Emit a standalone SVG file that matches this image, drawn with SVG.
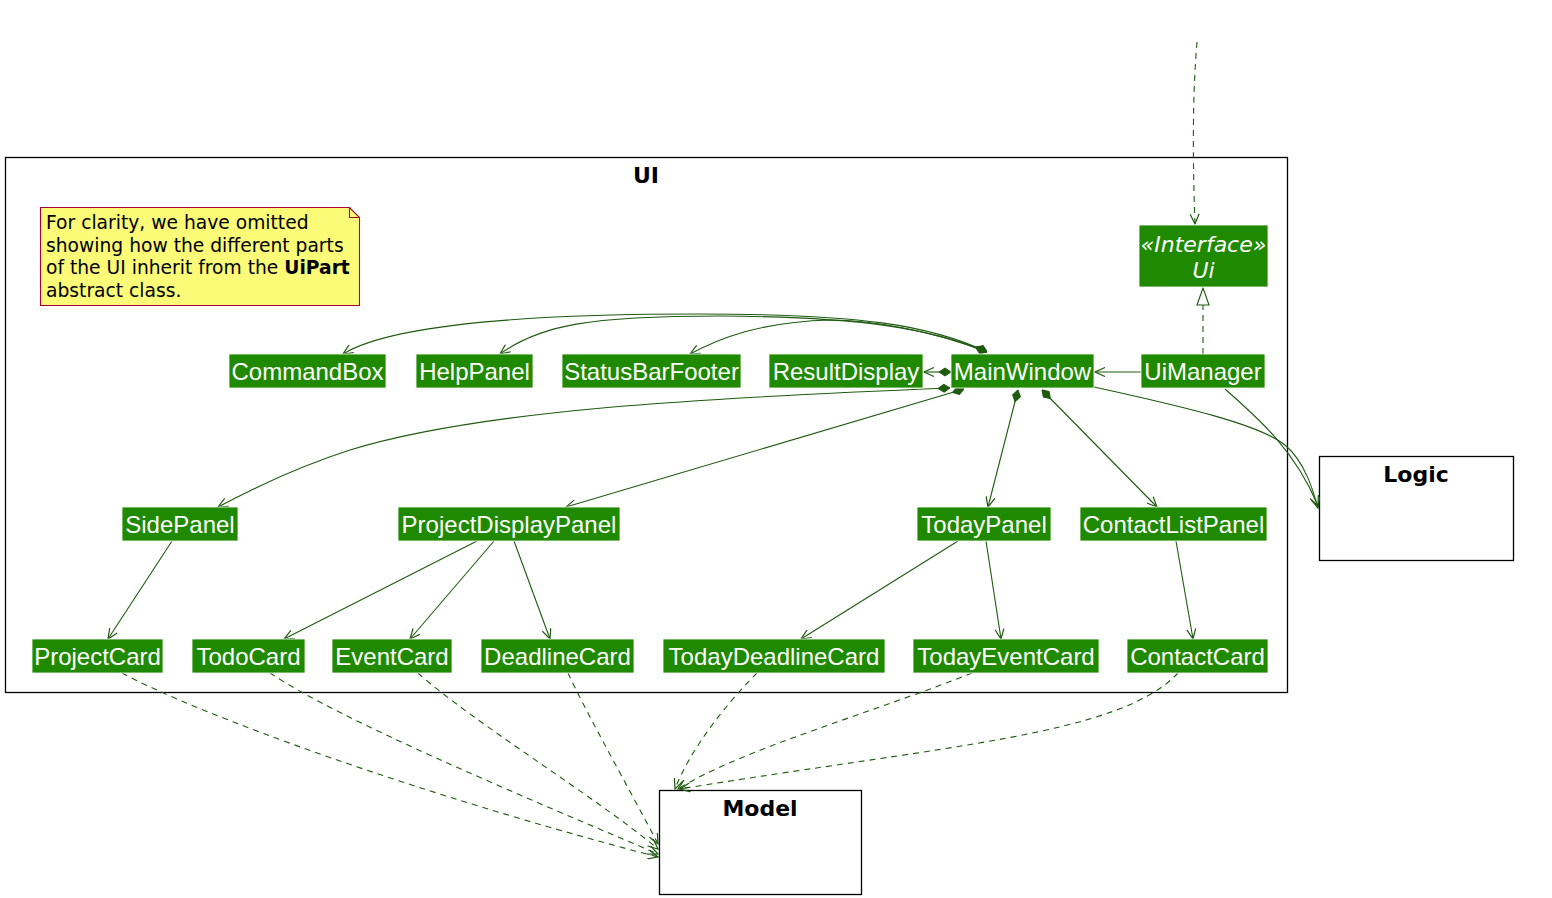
<svg xmlns="http://www.w3.org/2000/svg" width="1552" height="898" viewBox="0 0 1552 898">
<style>
.pkg{fill:#fff;stroke:#000;stroke-width:1.3}
.ptitle{font-family:"DejaVu Sans",sans-serif;font-weight:bold;font-size:22px;fill:#000;text-anchor:middle}
.cls{fill:#1F8A00;stroke:#fff;stroke-width:0.8}
.lbl{font-family:"Liberation Sans",Arial,sans-serif;font-size:24px;fill:#fff;text-anchor:middle}
.ilbl{font-family:"DejaVu Sans",sans-serif;font-style:italic;font-size:22px;fill:#fff;text-anchor:middle}
.e{fill:none;stroke:#1E5A0F;stroke-width:1.1}
.d{fill:none;stroke:#1E5A0F;stroke-width:1.1;stroke-dasharray:6,5}
.note{fill:#FBFB77;stroke:#A80036;stroke-width:1.1}
.ntxt{font-family:"DejaVu Sans",sans-serif;font-size:18.7px;fill:#000}
</style>
<defs>
<marker id="arr" markerUnits="userSpaceOnUse" markerWidth="12" markerHeight="10" refX="11" refY="5" orient="auto">
<path d="M1,0.5 L11,5 L1,9.5" fill="none" stroke="#1E5A0F" stroke-width="1.2"/>
</marker>
<marker id="dia" markerUnits="userSpaceOnUse" markerWidth="14" markerHeight="10" refX="0" refY="5" orient="auto">
<path d="M0,5 L6,1 L12,5 L6,9 Z" fill="#1E5A0F" stroke="#1E5A0F" stroke-width="1"/>
</marker>
<marker id="tri" markerUnits="userSpaceOnUse" markerWidth="20" markerHeight="14" refX="18" refY="7" orient="auto">
<path d="M1,1 L18,7 L1,13 Z" fill="#fff" stroke="#1E5A0F" stroke-width="1.1"/>
</marker>
</defs>
<rect width="1552" height="898" fill="#fff"/>

<g id="UI">
<rect class="pkg" x="5.5" y="157.5" width="1282" height="535"/>
<text class="ptitle" x="646" y="183">UI</text>
</g>
<g id="Logic">
<rect class="pkg" x="1319.5" y="456.5" width="194" height="104"/>
<text class="ptitle" x="1416" y="482">Logic</text>
</g>
<g id="Model">
<rect class="pkg" x="659.5" y="790.5" width="202" height="104"/>
<text class="ptitle" x="760" y="816">Model</text>
</g>

<g id="note">
<path class="note" d="M40.5,207.5 L349.5,207.5 L359.5,217.5 L359.5,305.5 L40.5,305.5 Z"/>
<path d="M349.5,207.5 L349.5,217.5 L359.5,217.5" fill="none" stroke="#A80036" stroke-width="1.1"/>
<text class="ntxt" x="46" y="229">For clarity, we have omitted</text>
<text class="ntxt" x="46" y="252">showing how the different parts</text>
<text class="ntxt" x="46" y="274">of the UI inherit from the <tspan font-weight="bold">UiPart</tspan></text>
<text class="ntxt" x="46" y="297">abstract class.</text>
</g>

<g id="connectors">
<path class="d" d="M1197,42 C1192,100 1193,170 1195,224" marker-end="url(#arr)"/>
<path class="d" d="M1203,354 L1203,288" marker-end="url(#tri)"/>
<path class="e" d="M1141,372 L1095,372" marker-end="url(#arr)"/>
<path class="e" d="M951,372 L924,372" marker-start="url(#dia)" marker-end="url(#arr)"/>
<path class="e" d="M987,352 C930,325 860,314 700,314 C520,314 390,325 343,354" marker-start="url(#dia)" marker-end="url(#arr)"/>
<path class="e" d="M987,352 C930,328 860,317 720,316 C590,316 540,325 500,354" marker-start="url(#dia)" marker-end="url(#arr)"/>
<path class="e" d="M987,352 C930,330 870,320 830,320 C760,322 720,338 690,354" marker-start="url(#dia)" marker-end="url(#arr)"/>
<path class="e" d="M950,388 C700,398 480,410 350,450 C300,466 250,490 218,507" marker-start="url(#dia)" marker-end="url(#arr)"/>
<path class="e" d="M964,389 L566,507" marker-start="url(#dia)" marker-end="url(#arr)"/>
<path class="e" d="M1018,390 L988,507" marker-start="url(#dia)" marker-end="url(#arr)"/>
<path class="e" d="M1042,390 L1157,507" marker-start="url(#dia)" marker-end="url(#arr)"/>
<path class="e" d="M1094,387 C1190,408 1260,425 1285,445 C1305,462 1313,490 1318,508" marker-end="url(#arr)"/>
<path class="e" d="M1225,389 C1258,418 1295,450 1318,506" marker-end="url(#arr)"/>
<path class="e" d="M172,541 L108,639" marker-end="url(#arr)"/>
<path class="e" d="M477,541 L284,639" marker-end="url(#arr)"/>
<path class="e" d="M494,541 L410,639" marker-end="url(#arr)"/>
<path class="e" d="M514,541 L550,639" marker-end="url(#arr)"/>
<path class="e" d="M958,541 L801,639" marker-end="url(#arr)"/>
<path class="e" d="M986,541 L1001,639" marker-end="url(#arr)"/>
<path class="e" d="M1176,541 L1193,639" marker-end="url(#arr)"/>
<path class="d" d="M122,673 C200,715 420,795 658,857" marker-end="url(#arr)"/>
<path class="d" d="M270,673 C340,720 520,795 658,854" marker-end="url(#arr)"/>
<path class="d" d="M418,673 C470,720 600,800 658,849" marker-end="url(#arr)"/>
<path class="d" d="M568,673 C590,720 630,790 658,844" marker-end="url(#arr)"/>
<path class="d" d="M757,673 C725,705 690,750 675,789" marker-end="url(#arr)"/>
<path class="d" d="M972,673 C880,710 740,750 678,789" marker-end="url(#arr)"/>
<path class="d" d="M1178,673 C1120,735 950,745 680,789" marker-end="url(#arr)"/>
</g>

<g id="Ui"><rect class="cls" x="1139" y="225" width="129" height="62"/><text class="ilbl" x="1203.5" y="252">«Interface»</text><text class="ilbl" x="1203.5" y="278">Ui</text></g>
<g id="CommandBox"><rect class="cls" x="229" y="354" width="157" height="34"/><text class="lbl" x="307.5" y="380">CommandBox</text></g>
<g id="HelpPanel"><rect class="cls" x="416" y="354" width="117" height="34"/><text class="lbl" x="474.5" y="380">HelpPanel</text></g>
<g id="StatusBarFooter"><rect class="cls" x="562" y="354" width="179" height="34"/><text class="lbl" x="651.5" y="380">StatusBarFooter</text></g>
<g id="ResultDisplay"><rect class="cls" x="769" y="354" width="154" height="34"/><text class="lbl" x="846" y="380">ResultDisplay</text></g>
<g id="MainWindow"><rect class="cls" x="951" y="354" width="143" height="34"/><text class="lbl" x="1022.5" y="380">MainWindow</text></g>
<g id="UiManager"><rect class="cls" x="1141" y="354" width="124" height="34"/><text class="lbl" x="1203" y="380">UiManager</text></g>
<g id="SidePanel"><rect class="cls" x="122" y="507" width="116" height="34"/><text class="lbl" x="180" y="533">SidePanel</text></g>
<g id="ProjectDisplayPanel"><rect class="cls" x="398" y="507" width="222" height="34"/><text class="lbl" x="509" y="533">ProjectDisplayPanel</text></g>
<g id="TodayPanel"><rect class="cls" x="917" y="507" width="134" height="34"/><text class="lbl" x="984" y="533">TodayPanel</text></g>
<g id="ContactListPanel"><rect class="cls" x="1080" y="507" width="187" height="34"/><text class="lbl" x="1173.5" y="533">ContactListPanel</text></g>
<g id="ProjectCard"><rect class="cls" x="32" y="639" width="131" height="34"/><text class="lbl" x="97.5" y="665">ProjectCard</text></g>
<g id="TodoCard"><rect class="cls" x="192" y="639" width="113" height="34"/><text class="lbl" x="248.5" y="665">TodoCard</text></g>
<g id="EventCard"><rect class="cls" x="332" y="639" width="120" height="34"/><text class="lbl" x="392" y="665">EventCard</text></g>
<g id="DeadlineCard"><rect class="cls" x="481" y="639" width="153" height="34"/><text class="lbl" x="557.5" y="665">DeadlineCard</text></g>
<g id="TodayDeadlineCard"><rect class="cls" x="663" y="639" width="222" height="34"/><text class="lbl" x="774" y="665">TodayDeadlineCard</text></g>
<g id="TodayEventCard"><rect class="cls" x="913" y="639" width="186" height="34"/><text class="lbl" x="1006" y="665">TodayEventCard</text></g>
<g id="ContactCard"><rect class="cls" x="1127" y="639" width="141" height="34"/><text class="lbl" x="1197.5" y="665">ContactCard</text></g>
</svg>
